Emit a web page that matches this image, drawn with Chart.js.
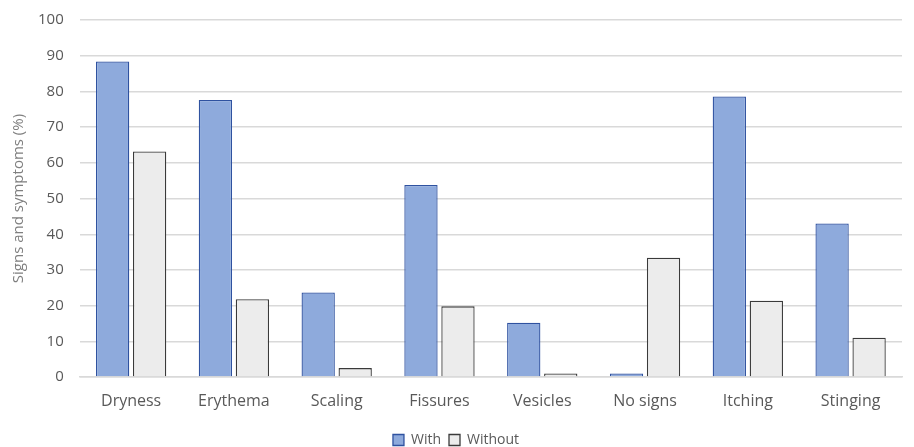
<!DOCTYPE html>
<html>
<head>
<meta charset="utf-8">
<script src="https://cdn.jsdelivr.net/npm/chart.js@4/dist/chart.umd.min.js"></script>
<style>
  html, body { margin: 0; padding: 0; background: #ffffff; }
  #wrap { width: 914px; height: 447px; position: relative; }
</style>
</head>
<body>
<div id="wrap"><canvas id="chart" width="914" height="447"></canvas></div>
<script>
// Categories and series (% of patients)
const categories = ["Dryness", "Erythema", "Scaling", "Fissures", "Vesicles", "No signs", "Itching", "Stinging"];
const withValues = [88.4, 77.6, 23.7, 53.8, 15.2, 1.0, 78.6, 43.0];
const withoutValues = [63.2, 21.8, 2.5, 19.8, 1.0, 33.4, 21.4, 11.0];
const seriesNames = ["With", "Without"];
const yTitle = "Signs and symptoms (%)";

const fontFamily = "'Open Sans', 'Noto Sans', sans-serif";

new Chart(document.getElementById("chart"), {
  type: "bar",
  data: {
    labels: categories,
    datasets: [
      {
        label: seriesNames[0],
        data: withValues,
        backgroundColor: "#8eaadc",
        borderColor: "#2f52a0",
        borderWidth: 1.3,
        categoryPercentage: 0.72,
        barPercentage: 0.9
      },
      {
        label: seriesNames[1],
        data: withoutValues,
        backgroundColor: "#ececec",
        borderColor: "#3a3a3a",
        borderWidth: 1.3,
        categoryPercentage: 0.72,
        barPercentage: 0.9
      }
    ]
  },
  options: {
    responsive: false,
    animation: false,
    layout: { padding: { left: 10, right: 12, top: 5, bottom: -10 } },
    plugins: {
      legend: {
        position: "bottom",
        labels: {
          boxWidth: 11,
          boxHeight: 11,
          padding: 8,
          color: "#595959",
          font: { family: fontFamily, size: 14 }
        }
      },
      tooltip: { enabled: false }
    },
    scales: {
      x: {
        grid: { display: false, drawTicks: false },
        border: { display: true, color: "#d9d9d9", width: 1.5 },
        ticks: {
          color: "#595959",
          padding: 16,
          font: { family: fontFamily, size: 16, lineHeight: 1.0 }
        }
      },
      y: {
        min: 0,
        max: 100,
        ticks: {
          stepSize: 10,
          color: "#595959",
          padding: 16,
          font: { family: fontFamily, size: 15, lineHeight: 0.55 }
        },
        grid: { color: "#d9d9d9", lineWidth: 1.5, drawTicks: false },
        border: { display: false },
        title: {
          display: true,
          text: yTitle,
          color: "#7f7f7f",
          padding: { top: 0, bottom: -6 },
          font: { family: fontFamily, size: 15 }
        }
      }
    }
  }
});
</script>
</body>
</html>
